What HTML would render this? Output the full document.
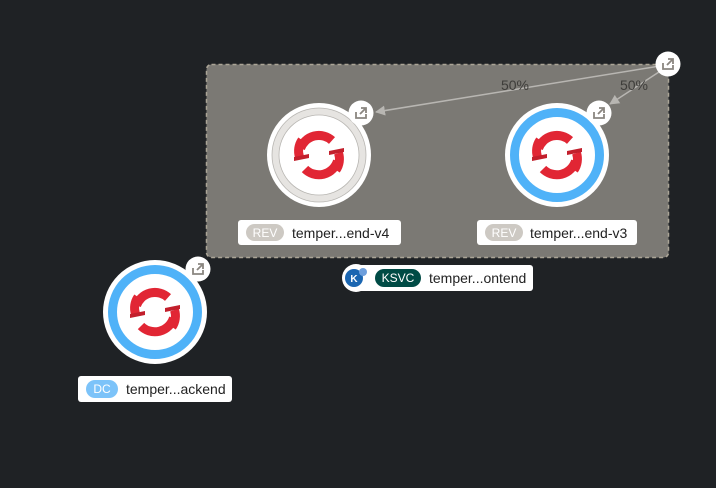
<!DOCTYPE html>
<html><head><meta charset="utf-8"><style>
html,body{margin:0;padding:0;background:#1f2225;}
svg{display:block}
text{font-family:"Liberation Sans",sans-serif;}
</style></head><body>
<svg width="716" height="488" viewBox="0 0 716 488" xmlns="http://www.w3.org/2000/svg">
<defs>
<g id="os">
<path d="M-18.5,-6.5 A19.5,19.5 0 0 1 13,-14.5" fill="none" stroke="#e12634" stroke-width="9"/>
<path d="M18.5,6 A19.5,19.5 0 0 1 -14,14" fill="none" stroke="#e12634" stroke-width="9"/>
<path d="M-17,-15 A19.5,19.5 0 0 0 -19.5,2" fill="none" stroke="#e12634" stroke-width="9"/>
<path d="M17,15 A19.5,19.5 0 0 0 19.5,-2" fill="none" stroke="#e12634" stroke-width="9"/>
<path d="M-25,2 L-10,-1 L-10,3 L-25,6Z" fill="#c21f2c"/>
<path d="M10,-4 L25,-7 L25,-3 L10,0Z" fill="#c21f2c"/>
</g>
<g id="ext">
<circle r="12.5" fill="#fff"/>
<path d="M-5,-1 V5 H5 V1 M0,-5 H5 V0 M5,-5 L-1,1" fill="none" stroke="#8a8680" stroke-width="1.8"/>
</g>
<marker id="ar" markerWidth="10" markerHeight="10" refX="9" refY="5" orient="auto" markerUnits="userSpaceOnUse">
<path d="M0,0 L10,5 L0,10Z" fill="#b8b6b2"/>
</marker>
</defs>
<rect x="206.5" y="64.5" width="462" height="193" rx="5" fill="#7b7974" stroke="#aaa496" stroke-width="1.5" stroke-dasharray="4,3"/>
<circle cx="319" cy="155" r="52" fill="#fff"/>
<circle cx="319" cy="155" r="47" fill="#e6e4e1" stroke="#b8b6b2" stroke-width="0.8"/>
<circle cx="319" cy="155" r="40" fill="#fff" stroke="#b8b6b2" stroke-width="0.8"/>
<use href="#os" x="319" y="155"/>
<circle cx="557" cy="155" r="52" fill="#fff"/>
<circle cx="557" cy="155" r="42.5" fill="none" stroke="#4fb2f8" stroke-width="9"/>
<use href="#os" x="557" y="155"/>
<circle cx="155" cy="312" r="52" fill="#fff"/>
<circle cx="155" cy="312" r="42.5" fill="none" stroke="#4fb2f8" stroke-width="9"/>
<use href="#os" x="155" y="312"/>
<line x1="660" y1="66" x2="376" y2="112" stroke="#b8b6b2" stroke-width="1.5" marker-end="url(#ar)"/>
<line x1="662" y1="70" x2="610" y2="104" stroke="#b8b6b2" stroke-width="1.5" marker-end="url(#ar)"/>
<text x="515" y="90" font-size="14" fill="#3e3d3a" text-anchor="middle">50%</text>
<text x="634" y="90" font-size="14" fill="#3e3d3a" text-anchor="middle">50%</text>
<use href="#ext" x="361" y="113"/>
<use href="#ext" x="599" y="113"/>
<use href="#ext" x="668" y="64"/>
<use href="#ext" x="198" y="269"/>
<rect x="238" y="220" width="163" height="25" rx="3" fill="#fff"/>
<rect x="246" y="224" width="38" height="17" rx="8.5" fill="#cdc9c3"/>
<text x="265" y="237" font-size="12" fill="#fff" text-anchor="middle">REV</text>
<text x="292" y="238" font-size="14" fill="#222">temper...end-v4</text>
<rect x="477" y="220" width="160" height="25" rx="3" fill="#fff"/>
<rect x="485" y="224" width="38" height="17" rx="8.5" fill="#cdc9c3"/>
<text x="504" y="237" font-size="12" fill="#fff" text-anchor="middle">REV</text>
<text x="530" y="238" font-size="14" fill="#222">temper...end-v3</text>
<rect x="352" y="265" width="181" height="26" rx="3" fill="#fff"/>
<circle cx="356" cy="278" r="14" fill="#fff"/>
<circle cx="354" cy="278" r="9" fill="#1b66b1"/>
<text x="354" y="282" font-size="10" font-weight="bold" fill="#fff" text-anchor="middle">K</text>
<circle cx="363" cy="272" r="4" fill="#6e9fdc"/>
<rect x="375" y="269" width="46" height="18" rx="9" fill="#004b45"/>
<text x="398" y="282" font-size="12" fill="#fff" text-anchor="middle">KSVC</text>
<text x="429" y="283" font-size="14" fill="#222">temper...ontend</text>
<rect x="78" y="376" width="154" height="26" rx="3" fill="#fff"/>
<rect x="86" y="380" width="32" height="18" rx="9" fill="#7cc3f9"/>
<text x="102" y="393" font-size="12" fill="#fff" text-anchor="middle">DC</text>
<text x="126" y="394" font-size="14" fill="#222">temper...ackend</text>
</svg>
</body></html>
